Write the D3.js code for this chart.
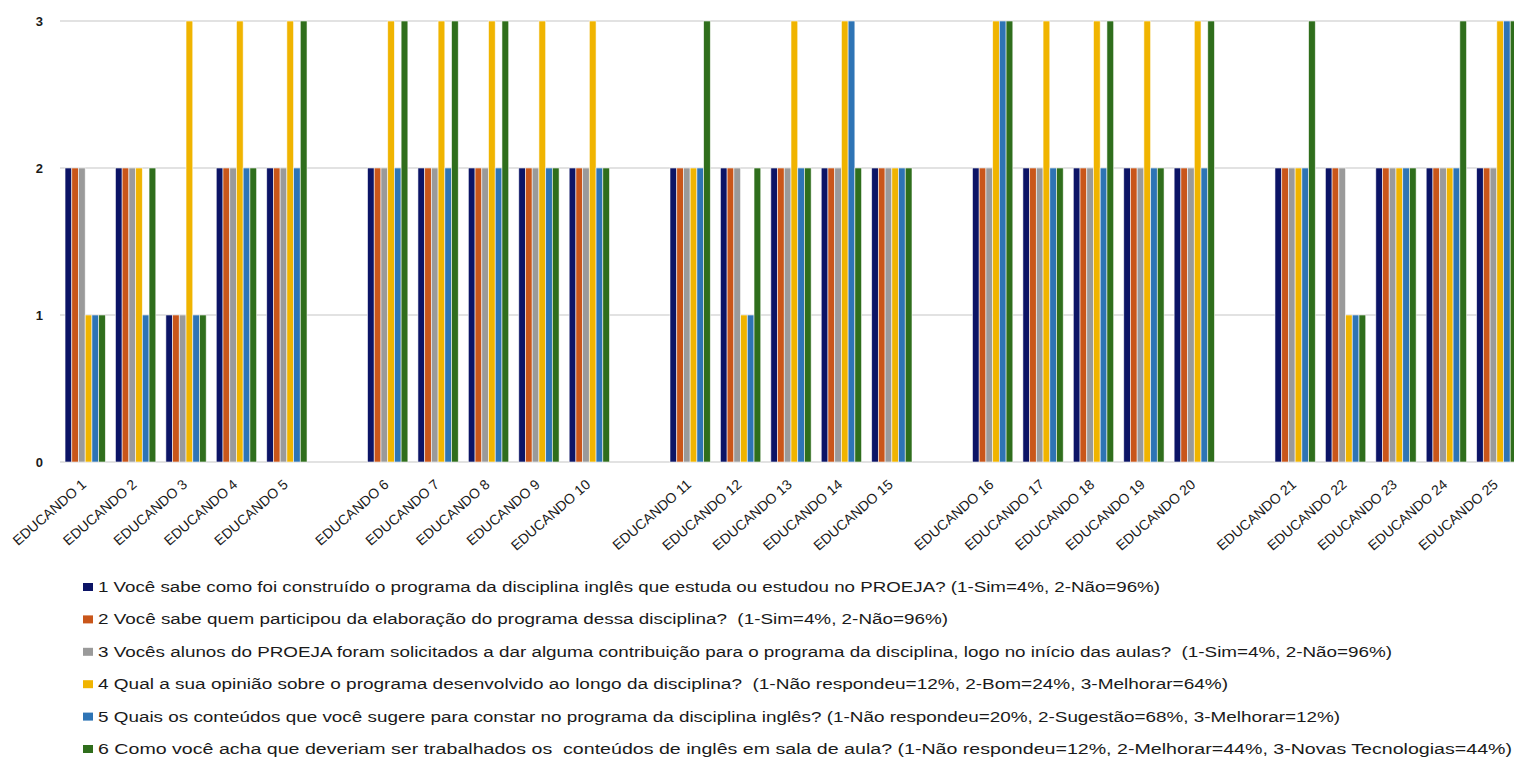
<!DOCTYPE html>
<html>
<head>
<meta charset="utf-8">
<script src="https://cdn.jsdelivr.net/npm/d3@7"></script>
<style>
  body { margin: 0; background: #fff; }
  svg { display: block; }
  text { font-family: "Liberation Sans", Arial, sans-serif; fill: #1a1a1a; }
</style>
</head>
<body>
<div id="chart"></div>
<script>
// Students (EDUCANDO 1..25), shown in blocks of 5 with an empty slot between blocks
const educandos = d3.range(1, 26).map(i => "EDUCANDO " + i);
const slots = ["E1","E2","E3","E4","E5","gap1","E6","E7","E8","E9","E10","gap2",
  "E11","E12","E13","E14","E15","gap3","E16","E17","E18","E19","E20","gap4",
  "E21","E22","E23","E24","E25"];

// Answer codes per question, one value per student
const q1 = [2,2,1,2,2, 2,2,2,2,2, 2,2,2,2,2, 2,2,2,2,2, 2,2,2,2,2];
const q2 = [2,2,1,2,2, 2,2,2,2,2, 2,2,2,2,2, 2,2,2,2,2, 2,2,2,2,2];
const q3 = [2,2,1,2,2, 2,2,2,2,2, 2,2,2,2,2, 2,2,2,2,2, 2,2,2,2,2];
const q4 = [1,2,3,3,3, 3,3,3,3,3, 2,1,3,3,2, 3,3,3,3,3, 2,1,2,2,3];
const q5 = [1,1,1,2,2, 2,2,2,2,2, 2,1,2,3,2, 3,2,2,2,2, 2,1,2,2,3];
const q6 = [1,2,1,2,3, 3,3,3,2,2, 3,2,2,2,2, 3,2,3,2,3, 3,1,2,3,3];

const seriesNames = [
  "1 Você sabe como foi construído o programa da disciplina inglês que estuda ou estudou no PROEJA? (1-Sim=4%, 2-Não=96%)",
  "2 Você sabe quem participou da elaboração do programa dessa disciplina?  (1-Sim=4%, 2-Não=96%)",
  "3 Vocês alunos do PROEJA foram solicitados a dar alguma contribuição para o programa da disciplina, logo no início das aulas?  (1-Sim=4%, 2-Não=96%)",
  "4 Qual a sua opinião sobre o programa desenvolvido ao longo da disciplina?  (1-Não respondeu=12%, 2-Bom=24%, 3-Melhorar=64%)",
  "5 Quais os conteúdos que você sugere para constar no programa da disciplina inglês? (1-Não respondeu=20%, 2-Sugestão=68%, 3-Melhorar=12%)",
  "6 Como você acha que deveriam ser trabalhados os  conteúdos de inglês em sala de aula? (1-Não respondeu=12%, 2-Melhorar=44%, 3-Novas Tecnologias=44%)"
];
const seriesValues = [q1, q2, q3, q4, q5, q6];
const colors = ["#0c1466", "#c9561a", "#9a9a9a", "#f0b400", "#2e74b5", "#2f6e1c"];
const yTicks = [0, 1, 2, 3];

(function () {
  const width = 1514, height = 758;
  const svg = d3.select("#chart").append("svg")
    .attr("width", width).attr("height", height);

  const x = d3.scaleBand().domain(slots).range([60, 1522])
    .paddingInner(0.2).paddingOuter(0.1);
  const keys = seriesNames.map((d, i) => "s" + i);
  const x1 = d3.scaleBand().domain(keys).range([0, x.bandwidth()]);
  const y = d3.scaleLinear().domain([0, 3]).range([462, 21]);

  // gridlines
  svg.append("g").selectAll("line").data(yTicks).join("line")
    .attr("x1", 60).attr("x2", width)
    .attr("y1", d => y(d)).attr("y2", d => y(d))
    .attr("stroke", "#d9d9d9").attr("stroke-width", 1.5);

  // y labels
  svg.append("g").selectAll("text").data(yTicks).join("text")
    .attr("x", 43).attr("y", d => y(d) + 5)
    .attr("text-anchor", "end")
    .style("font-size", "13px").style("font-weight", "bold")
    .text(d => d);

  // bars
  const rows = educandos.map((name, i) => ({
    slot: "E" + (i + 1),
    name,
    values: seriesValues.map((s, k) => ({ key: keys[k], value: s[i], color: colors[k] }))
  }));

  const groups = svg.append("g").selectAll("g").data(rows).join("g")
    .attr("transform", d => `translate(${x(d.slot)},0)`);

  groups.selectAll("rect").data(d => d.values).join("rect")
    .attr("x", d => x1(d.key))
    .attr("width", x1.bandwidth())
    .attr("y", d => y(d.value))
    .attr("height", d => y(0) - y(d.value))
    .attr("fill", d => d.color)
    .attr("stroke", "rgba(255,255,255,0.7)")
    .attr("stroke-width", 0.8);

  // x labels, slanted
  svg.append("g").selectAll("text").data(rows).join("text")
    .attr("text-anchor", "end")
    .attr("transform", d => `translate(${x(d.slot) + x.bandwidth() / 2 + 2},486) rotate(-41)`)
    .style("font-size", "14px")
    .text(d => d.name);

  // legend
  const legendEnds = [1160, 948, 1392, 1228, 1340, 1512];
  const legend = svg.append("g").selectAll("g").data(seriesNames).join("g")
    .attr("transform", (d, i) => `translate(0,${587 + i * 32.4})`);

  legend.append("rect")
    .attr("x", 83).attr("y", -4).attr("width", 10).attr("height", 8)
    .attr("fill", (d, i) => colors[i]);

  legend.append("text")
    .attr("x", 98).attr("y", 5)
    .attr("xml:space", "preserve")
    .attr("textLength", (d, i) => legendEnds[i] - 98)
    .attr("lengthAdjust", "spacingAndGlyphs")
    .style("font-size", "14px")
    .text(d => d);
})();
</script>
</body>
</html>
